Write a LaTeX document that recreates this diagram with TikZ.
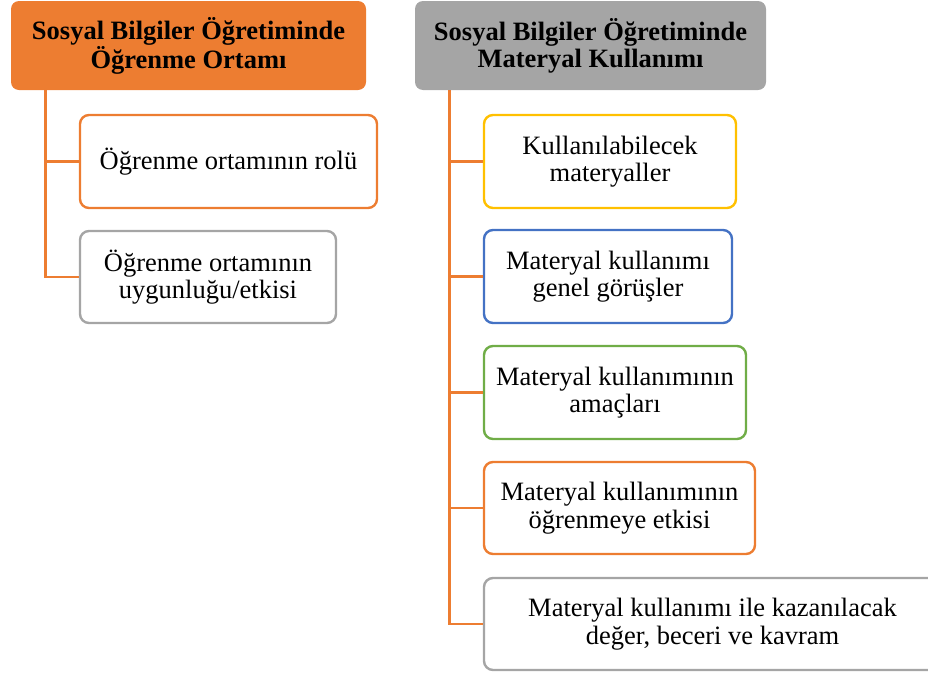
\documentclass[tikz,border=0pt]{standalone}
\usepackage{fontspec}
\setmainfont{Liberation Serif}
\definecolor{cOrange}{HTML}{ED7D31}
\definecolor{cGray}{HTML}{A5A5A5}
\definecolor{cYellow}{HTML}{FFC000}
\definecolor{cBlue}{HTML}{4472C4}
\definecolor{cGreen}{HTML}{70AD47}
\tikzset{
  header/.style={rectangle, rounded corners=8pt, draw=none, inner sep=0pt,
    align=center, font=\fontsize{26.5}{27}\selectfont\bfseries},
  itembox/.style={rectangle, rounded corners=9pt, line width=2.4pt, fill=white,
    inner sep=0pt, align=center, font=\fontsize{26.5}{27.5}\selectfont},
  conn/.style={draw=cOrange, line width=2.6pt}
}
\begin{document}
\begin{tikzpicture}[x=1pt,y=-1pt]
\useasboundingbox (0,0) rectangle (928,675);
% connectors
\coordinate (sL) at (45.5,90);
\coordinate (sR) at (449.5,90);
% headers
\node[header, fill=cOrange, minimum width=355pt, minimum height=89pt] (h1) at (188.5,45.5)
  {Sosyal Bilgiler Öğretiminde\\Öğrenme Ortamı};
\node[header, fill=cGray, minimum width=351pt, minimum height=89pt] (h2) at (590.5,45.5)
  {Sosyal Bilgiler Öğretiminde\\Materyal Kullanımı};
% left items
\node[itembox, draw=cOrange, minimum width=297pt, minimum height=93pt] (l1) at (228.5,161.5)
  {Öğrenme ortamının rolü};
\node[itembox, draw=cGray, minimum width=256pt, minimum height=92pt] (l2) at (208,277)
  {Öğrenme ortamının\\uygunluğu/etkisi};
% right items
\node[itembox, draw=cYellow, minimum width=252pt, minimum height=93pt] (r1) at (610,161.5)
  {Kullanılabilecek\\materyaller};
\node[itembox, draw=cBlue, minimum width=248pt, minimum height=93pt] (r2) at (608,276.5)
  {Materyal kullanımı\\genel görüşler};
\node[itembox, draw=cGreen, minimum width=262pt, minimum height=93pt] (r3) at (615,392.5)
  {Materyal kullanımının\\amaçları};
\node[itembox, draw=cOrange, minimum width=271pt, minimum height=92pt] (r4) at (619.5,508)
  {Materyal kullanımının\\öğrenmeye etkisi};
\node[itembox, draw=cGray, minimum width=457pt, minimum height=92pt] (r5) at (712.5,624)
  {Materyal kullanımı ile kazanılacak\\değer, beceri ve kavram};
\draw[conn] (sL) |- (l2.west);
\draw[conn] (sL |- l1.west) -- (l1.west);
\draw[conn] (sR) |- (r5.west);
\draw[conn] (sR |- r1.west) -- (r1.west);
\draw[conn] (sR |- r2.west) -- (r2.west);
\draw[conn] (sR |- r3.west) -- (r3.west);
\draw[conn] (sR |- r4.west) -- (r4.west);
\end{tikzpicture}
\end{document}
